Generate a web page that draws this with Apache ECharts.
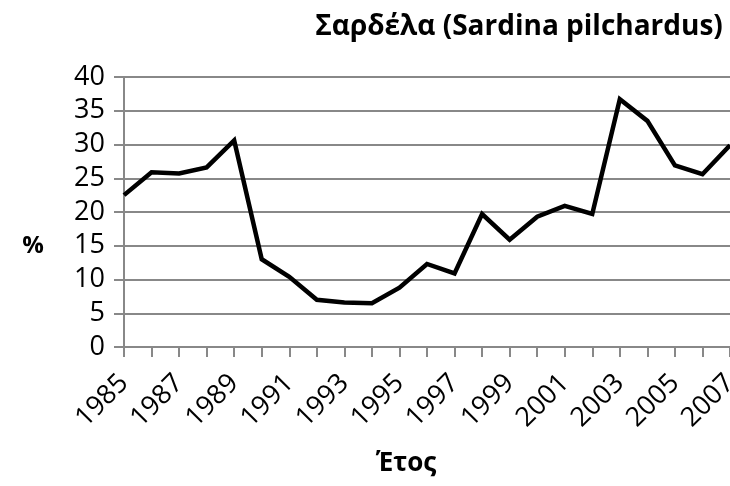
<!DOCTYPE html>
<html>
<head>
<meta charset="utf-8">
<script src="https://cdn.jsdelivr.net/npm/echarts@6/dist/echarts.min.js"></script>
<style>
  html, body { margin: 0; padding: 0; background: #fff; }
  #chart { width: 730px; height: 486px; }
</style>
</head>
<body>
<div id="chart"></div>
<script>
// δεδομένα
var years = ['1985', '1986', '1987', '1988', '1989', '1990', '1991', '1992', '1993', '1994', '1995', '1996',
  '1997', '1998', '1999', '2000', '2001', '2002', '2003', '2004', '2005', '2006', '2007'];
var sardine = [22.5, 25.9, 25.7, 26.6, 30.6, 13.0, 10.4, 7.0, 6.6, 6.5, 8.8, 12.3,
  10.9, 19.7, 15.9, 19.3, 20.9, 19.7, 36.7, 33.5, 26.9, 25.6, 29.9];

(function () {
  var myChart = echarts.init(document.getElementById('chart'));
  var font = '"Open Sans", "DejaVu Sans", sans-serif';

  var option = {
    animation: false,
    title: [
      {
        text: 'Σαρδέλα (Sardina pilchardus)',
        left: 514,
        top: 8,
        textAlign: 'center',
        textStyle: { fontFamily: font, fontSize: 28, fontWeight: 'bold', color: '#000' }
      },
      {
        // τίτλος άξονα x
        text: 'Έτος',
        left: 401,
        top: 446,
        textAlign: 'center',
        textStyle: { fontFamily: font, fontSize: 26, fontWeight: 'bold', color: '#000' }
      },
      {
        // τίτλος άξονα y
        text: '%',
        left: 28,
        top: 229,
        textAlign: 'center',
        textStyle: { fontFamily: font, fontSize: 24, fontWeight: 'bold', color: '#000' }
      }
    ],
    grid: {
      left: 124,
      right: 0,
      top: 77,
      bottom: 139,
      outerBoundsMode: 'none',
      containLabel: false
    },
    xAxis: {
      type: 'category',
      data: years,
      boundaryGap: false,
      axisLine: { lineStyle: { color: '#888', width: 2 } },
      axisTick: { show: true, interval: 0, length: 10, lineStyle: { color: '#888', width: 2 } },
      axisLabel: {
        interval: 1,
        rotate: 45,
        margin: 32,
        fontFamily: font,
        fontSize: 27,
        color: '#000'
      },
      splitLine: { show: false }
    },
    yAxis: {
      type: 'value',
      min: 0,
      max: 40,
      interval: 5,
      axisLine: { show: true, lineStyle: { color: '#888', width: 2 } },
      axisTick: { show: true, length: 10, lineStyle: { color: '#888', width: 2 } },
      axisLabel: { margin: 19, fontFamily: font, fontSize: 27, color: '#000' },
      splitLine: { lineStyle: { color: '#888', width: 2 } }
    },
    series: [
      {
        type: 'line',
        data: sardine,
        symbol: 'none',
        lineStyle: { color: '#000', width: 4.5, join: 'miter' }
      }
    ]
  };

  myChart.setOption(option);
})();
</script>
</body>
</html>
